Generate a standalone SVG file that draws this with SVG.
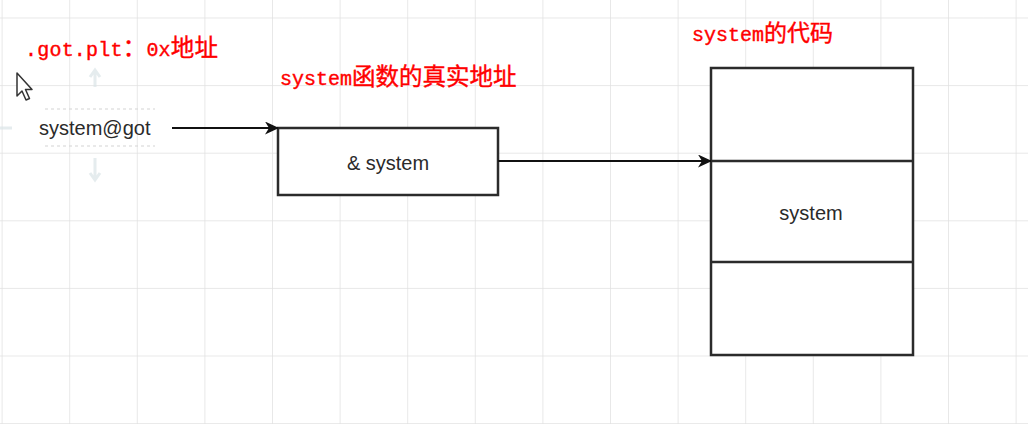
<svg xmlns="http://www.w3.org/2000/svg" width="1028" height="424" viewBox="0 0 1028 424">
  <style>
    .box { fill: #ffffff; stroke: #2b2b2b; stroke-width: 2.5; }
    .div { stroke: #2b2b2b; stroke-width: 2.5; fill: none; }
    .lbl { font-family: "Liberation Sans", Arial, sans-serif; font-size: 20px; fill: #2a2a2a; }
    .red { font-family: "Liberation Mono", "Noto Sans CJK SC", monospace; font-size: 20px; fill: #ff0000; stroke: #ff0000; stroke-width: 0.4; }
    .cjk { font-family: "Noto Sans CJK SC", sans-serif; font-size: 23.5px; }
    .conn { stroke: #111111; stroke-width: 2; fill: none; marker-end: url(#arrow); }
    .hint { stroke: #d6d6d6; stroke-width: 1.5; stroke-dasharray: 3 3; fill: none; }
  </style>
  <defs>
    <pattern id="grid" x="1.6" y="17.5" width="67.6" height="67.6" patternUnits="userSpaceOnUse">
      <path d="M 67.6 0 L 0 0 0 67.6" fill="none" stroke="#e1e1e1" stroke-width="1.5"/>
    </pattern>
    <marker id="arrow" viewBox="0 0 14 13" refX="13" refY="6.5" markerWidth="14" markerHeight="13" markerUnits="userSpaceOnUse" orient="auto">
      <path d="M0,0 L14,6.5 L0,13 L4,6.5 Z" fill="#111111"/>
    </marker>
  </defs>

  <rect x="0" y="0" width="1028" height="424" fill="#ffffff"/>
  <rect x="0" y="0" width="1028" height="424" fill="url(#grid)"/>

  <!-- faint hover hints around system@got -->
  <g id="hover-hints" opacity="0.7">
    <line class="hint" x1="45" y1="109" x2="155" y2="109"/>
    <line class="hint" x1="45" y1="146" x2="155" y2="146"/>
    <path d="M95,87 L95,72 M90,77 L95,70 L100,77" stroke="#dbe5e8" stroke-width="3" fill="none"/>
    <path d="M95,158 L95,178 M90,173 L95,180 L100,173" stroke="#dbe5e8" stroke-width="3" fill="none"/>
    <line x1="0" y1="128" x2="12" y2="128" stroke="#dbe5e8" stroke-width="3"/>
  </g>

  <!-- mouse cursor -->
  <g id="cursor">
    <path d="M17,73 L17,96 L22,91 L26,100 L29.5,98.5 L25.5,89.5 L32,89.5 Z" fill="#ffffff" stroke="#333333" stroke-width="1.5" stroke-linejoin="round"/>
  </g>

  <g id="label-got-plt">
    <text class="red" x="25" y="56" textLength="193" lengthAdjust="spacing">.got.plt<tspan class="cjk">：</tspan>0x<tspan class="cjk">地址</tspan></text>
  </g>

  <g id="label-real-addr">
    <text class="red" x="280" y="85">system<tspan class="cjk">函数的真实地址</tspan></text>
  </g>

  <g id="label-system-code">
    <text class="red" x="692" y="41">system<tspan class="cjk" style="font-size:23px">的代码</tspan></text>
  </g>

  <g id="node-system-got">
    <text class="lbl" x="39" y="135">system@got</text>
  </g>

  <g id="node-addr">
    <rect class="box" x="278" y="128" width="220" height="67"/>
    <text class="lbl" x="388" y="170" text-anchor="middle">&amp; system</text>
  </g>

  <g id="node-system-code">
    <rect class="box" x="711" y="68" width="202" height="287"/>
    <line class="div" x1="711" y1="262" x2="913" y2="262"/>
    <line class="div" x1="711" y1="161" x2="913" y2="161"/>
    <text class="lbl" x="811" y="220" text-anchor="middle">system</text>
  </g>

  <g id="connectors">
    <line class="conn" x1="172" y1="128" x2="278" y2="128"/>
    <line class="conn" x1="498" y1="161" x2="711" y2="161"/>
  </g>
</svg>
